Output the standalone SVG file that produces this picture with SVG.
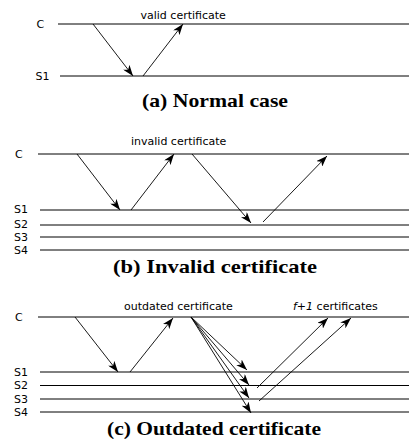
<svg xmlns="http://www.w3.org/2000/svg" width="409" height="442" viewBox="0 0 409 442">
<style>
.bg{fill:#fff}
.tl{stroke:#000;stroke-width:1;fill:none}
.ar{stroke:#000;stroke-width:0.9;fill:none;marker-end:url(#ah)}
.lab{font-family:"DejaVu Sans",sans-serif;font-size:11px;fill:#000}
.cap{font-family:"Liberation Serif",serif;font-size:19px;font-weight:bold;fill:#000;text-anchor:middle}
</style>
<defs>
<marker id="ah" viewBox="0 0 11 8" refX="11" refY="4" markerWidth="11" markerHeight="8" markerUnits="userSpaceOnUse" orient="auto">
<path d="M0,0 L11,4 L0,8 L3,4 z" fill="#000"/>
</marker>
</defs>
<rect class="bg" width="409" height="442"/>
<g id="panel-a">
<g id="a-C"><text class="lab" x="36.5" y="28">C</text><line class="tl" x1="58" y1="24" x2="409" y2="24"/></g>
<g id="a-S1"><text class="lab" x="35.5" y="79.5">S1</text><line class="tl" x1="60" y1="76" x2="409" y2="76"/></g>
<text class="lab" x="140.5" y="19">valid certificate</text>
<text class="cap" x="215" y="107" textLength="146" lengthAdjust="spacingAndGlyphs">(a) Normal case</text>
</g>
<g id="panel-b">
<g id="b-C"><text class="lab" x="15" y="158">C</text><line class="tl" x1="38" y1="154" x2="409" y2="154"/></g>
<g id="b-S1"><text class="lab" x="14" y="213">S1</text><line class="tl" x1="40" y1="210" x2="409" y2="210"/></g>
<g id="b-S2"><text class="lab" x="14" y="228">S2</text><line class="tl" x1="40" y1="225" x2="409" y2="225"/></g>
<g id="b-S3"><text class="lab" x="14" y="240.5">S3</text><line class="tl" x1="40" y1="237" x2="409" y2="237"/></g>
<g id="b-S4"><text class="lab" x="14" y="253.5">S4</text><line class="tl" x1="40" y1="250" x2="409" y2="250"/></g>
<text class="lab" x="131" y="145">invalid certificate</text>
<text class="cap" x="215" y="273" textLength="204" lengthAdjust="spacingAndGlyphs">(b) Invalid certificate</text>
</g>
<g id="panel-c">
<g id="c-C"><text class="lab" x="15" y="321">C</text><line class="tl" x1="38" y1="317" x2="409" y2="317"/></g>
<g id="c-S1"><text class="lab" x="14" y="375.5">S1</text><line class="tl" x1="40" y1="372" x2="409" y2="372"/></g>
<g id="c-S2"><text class="lab" x="14" y="389">S2</text><line class="tl" x1="40" y1="385.5" x2="409" y2="385.5"/></g>
<g id="c-S3"><text class="lab" x="14" y="402.5">S3</text><line class="tl" x1="40" y1="399" x2="409" y2="399"/></g>
<g id="c-S4"><text class="lab" x="14" y="415.5">S4</text><line class="tl" x1="40" y1="412" x2="409" y2="412"/></g>
<text class="lab" x="124" y="310">outdated certificate</text>
<text class="lab" x="293" y="310"><tspan font-style="italic">f+1</tspan> certificates</text>
<text class="cap" x="214" y="435" textLength="214" lengthAdjust="spacingAndGlyphs">(c) Outdated certificate</text>
</g>
<g id="connectors">
<line class="ar" x1="93" y1="24" x2="133" y2="76"/>
<line class="ar" x1="143" y1="76" x2="183" y2="24"/>
<line class="ar" x1="77" y1="154" x2="120" y2="210"/>
<line class="ar" x1="131" y1="210" x2="174" y2="154"/>
<line class="ar" x1="192" y1="154" x2="251" y2="223"/>
<line class="ar" x1="263" y1="222" x2="327" y2="156"/>
<line class="ar" x1="75" y1="317" x2="118" y2="372"/>
<line class="ar" x1="130" y1="372" x2="173" y2="318"/>
<line class="ar" x1="191" y1="317" x2="247" y2="370"/>
<line class="ar" x1="191" y1="317" x2="249" y2="385"/>
<line class="ar" x1="191" y1="317" x2="249" y2="398"/>
<line class="ar" x1="191" y1="317" x2="251" y2="413"/>
<line class="ar" x1="257" y1="388" x2="328" y2="318"/>
<line class="ar" x1="259" y1="401" x2="351" y2="318"/>
</g>
</svg>
